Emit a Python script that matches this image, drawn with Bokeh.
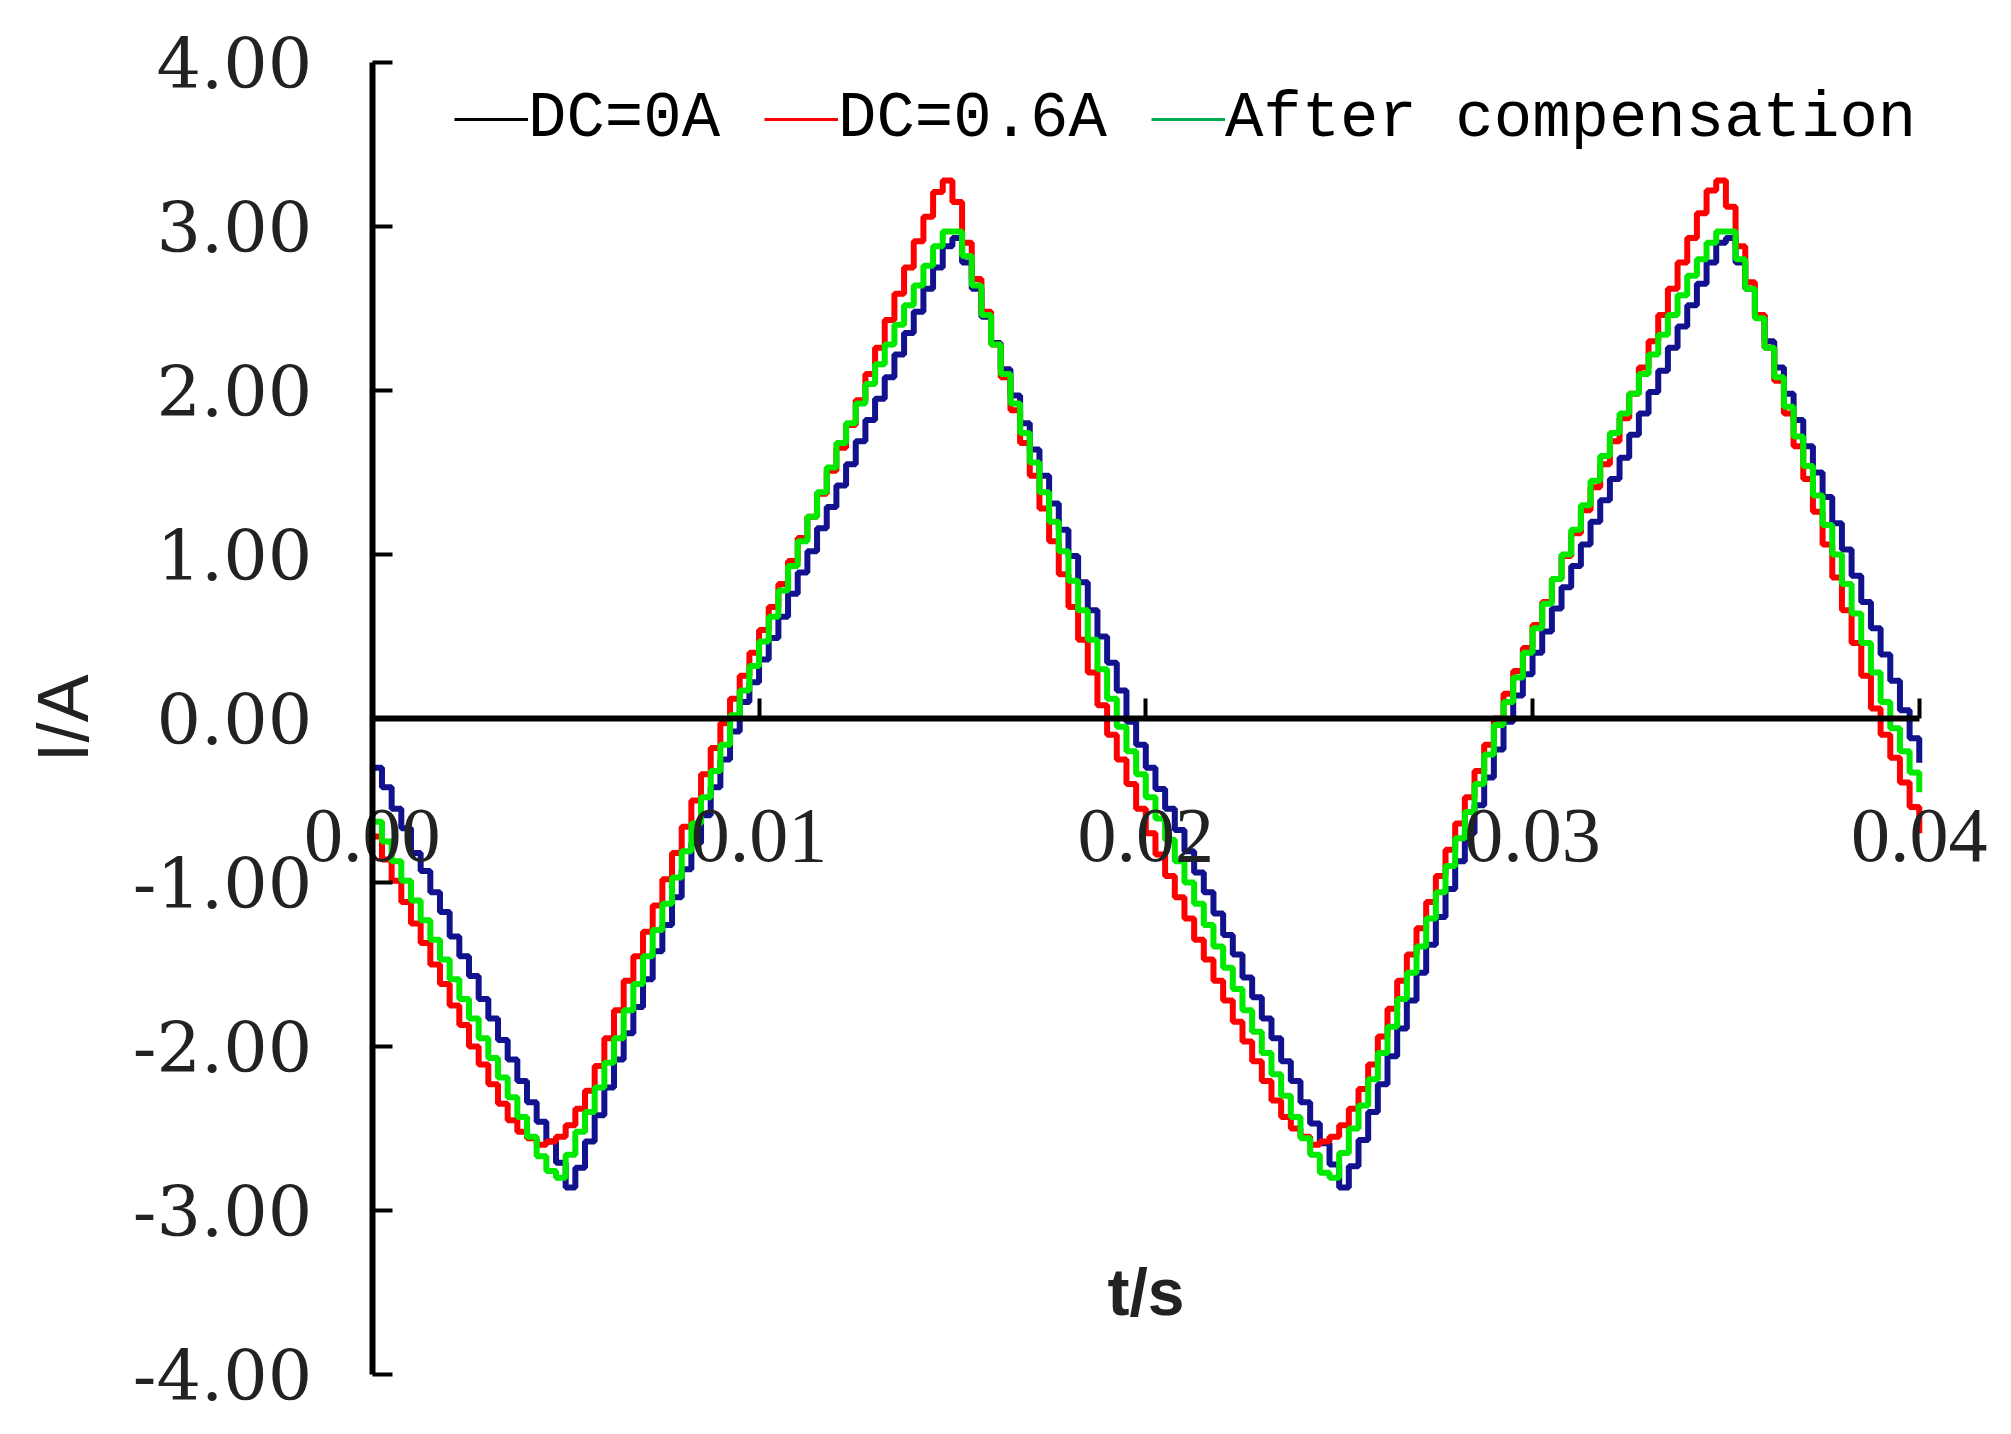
from bokeh.plotting import figure
from bokeh.models import (LinearAxis, FixedTicker, NumeralTickFormatter, Range1d)
from bokeh.embed import file_html
from bokeh.resources import INLINE

# ---------------- data ----------------
T_STEP = 0.00025  # sampling interval of the recorded waveforms, s

# DC = 0 A (drawn dark blue)
i_dc0 = [
    -0.30, -0.42, -0.55, -0.67, -0.82, -0.93, -1.06, -1.18, -1.33, -1.45, -1.57, -1.71, -1.83, -1.96, -2.08, -2.21, -2.34, -2.46, -2.58, -2.71, -2.86,
    -2.74, -2.58, -2.42, -2.25, -2.08, -1.92, -1.76, -1.59, -1.42, -1.26, -1.09, -0.92, -0.76, -0.59, -0.42, -0.25, -0.08, 0.10,
    0.22, 0.36, 0.49, 0.62, 0.76, 0.89, 1.02, 1.16, 1.29, 1.42, 1.55, 1.69, 1.82, 1.95, 2.08, 2.22, 2.35, 2.48, 2.62, 2.75, 2.88, 2.93,
    2.78, 2.62, 2.45, 2.29, 2.13, 1.97, 1.80, 1.64, 1.48, 1.31, 1.15, 0.99, 0.83, 0.66, 0.50, 0.34, 0.17, -0.02, -0.16, -0.30,
    -0.43, -0.55, -0.68, -0.81, -0.94, -1.06, -1.19, -1.32, -1.44, -1.58, -1.70, -1.83, -1.95, -2.09, -2.21, -2.34, -2.47, -2.59, -2.72, -2.86,
    -2.73, -2.57, -2.40, -2.23, -2.06, -1.89, -1.72, -1.55, -1.38, -1.21, -1.04, -0.87, -0.70, -0.53, -0.36, -0.19, -0.02, 0.14,
    0.27, 0.40, 0.53, 0.67, 0.80, 0.93, 1.06, 1.20, 1.33, 1.46, 1.59, 1.73, 1.86, 1.99, 2.12, 2.26, 2.39, 2.52, 2.65, 2.78, 2.90, 2.93,
    2.78, 2.62, 2.46, 2.30, 2.14, 1.98, 1.82, 1.66, 1.50, 1.35, 1.19, 1.03, 0.87, 0.71, 0.55, 0.39, 0.23, 0.05, -0.12, -0.27,
]

# DC = 0.6 A (red)
i_dc06 = [
    -0.72, -0.86, -0.99, -1.12, -1.25, -1.37, -1.50, -1.62, -1.75, -1.87, -2.00, -2.11, -2.23, -2.35, -2.45, -2.52, -2.56, -2.60, -2.58,
    -2.55, -2.48, -2.38, -2.27, -2.12, -1.95, -1.78, -1.60, -1.45, -1.30, -1.14, -0.98, -0.82, -0.66, -0.50, -0.34, -0.18, -0.03,
    0.12, 0.26, 0.40, 0.54, 0.68, 0.82, 0.96, 1.10, 1.23, 1.37, 1.51, 1.65, 1.79, 1.94, 2.10, 2.26, 2.43, 2.59, 2.75, 2.91, 3.06, 3.21, 3.28,
    3.15, 2.90, 2.68, 2.48, 2.28, 2.08, 1.88, 1.68, 1.48, 1.28, 1.08, 0.88, 0.68, 0.48, 0.28, 0.08, -0.10,
    -0.25, -0.40, -0.55, -0.70, -0.83, -0.96, -1.09, -1.22, -1.35, -1.47, -1.60, -1.72, -1.85, -1.97, -2.09, -2.21, -2.33, -2.43, -2.50, -2.55, -2.60, -2.58, -2.55,
    -2.48, -2.38, -2.26, -2.11, -1.94, -1.77, -1.60, -1.44, -1.28, -1.12, -0.96, -0.80, -0.64, -0.48, -0.32, -0.16, 0.00,
    0.15, 0.29, 0.43, 0.57, 0.71, 0.85, 0.99, 1.13, 1.27, 1.41, 1.55, 1.69, 1.83, 1.98, 2.14, 2.30, 2.46, 2.62, 2.78, 2.93, 3.08, 3.22, 3.28,
    3.12, 2.88, 2.66, 2.46, 2.26, 2.06, 1.86, 1.66, 1.46, 1.26, 1.06, 0.86, 0.66, 0.46, 0.26, 0.06, -0.10, -0.24, -0.39, -0.54, -0.70,
]

# After compensation (green)
i_comp = [
    -0.63, -0.75, -0.87, -0.99, -1.11, -1.23, -1.35, -1.47, -1.59, -1.71, -1.83, -1.95, -2.07, -2.19, -2.31, -2.43, -2.55, -2.67, -2.76, -2.80,
    -2.66, -2.52, -2.40, -2.25, -2.10, -1.95, -1.78, -1.62, -1.45, -1.29, -1.13, -0.97, -0.81, -0.64, -0.48, -0.32, -0.16, 0.02,
    0.17, 0.32, 0.47, 0.62, 0.78, 0.93, 1.08, 1.23, 1.38, 1.53, 1.68, 1.80, 1.92, 2.04, 2.16, 2.28, 2.40, 2.52, 2.64, 2.76, 2.88, 2.97, 2.97,
    2.82, 2.64, 2.46, 2.28, 2.10, 1.92, 1.74, 1.56, 1.38, 1.20, 1.02, 0.84, 0.66, 0.48, 0.30, 0.12, -0.05, -0.20, -0.34, -0.48,
    -0.61, -0.74, -0.87, -1.00, -1.13, -1.26, -1.39, -1.52, -1.65, -1.78, -1.91, -2.04, -2.17, -2.30, -2.43, -2.56, -2.66, -2.77, -2.80,
    -2.65, -2.50, -2.36, -2.20, -2.04, -1.88, -1.71, -1.55, -1.39, -1.22, -1.06, -0.90, -0.73, -0.57, -0.40, -0.22, -0.04, 0.10,
    0.25, 0.40, 0.55, 0.70, 0.85, 1.00, 1.15, 1.30, 1.45, 1.60, 1.74, 1.86, 1.98, 2.10, 2.22, 2.34, 2.46, 2.58, 2.70, 2.80, 2.90, 2.97, 2.97,
    2.80, 2.62, 2.44, 2.26, 2.08, 1.90, 1.72, 1.54, 1.36, 1.18, 1.00, 0.82, 0.64, 0.46, 0.28, 0.10, -0.06, -0.20, -0.33, -0.45,
]

t = [round(k * T_STEP, 6) for k in range(len(i_dc0))]

series_labels = ["DC=0A", "DC=0.6A", "After compensation"]

x_ticks = [0.0, 0.01, 0.02, 0.03, 0.04]
x_tick_labels = ["0.00", "0.01", "0.02", "0.03", "0.04"]
y_ticks = [-4, -3, -2, -1, 0, 1, 2, 3, 4]
y_tick_labels = ["-4.00", "-3.00", "-2.00", "-1.00", "0.00", "1.00", "2.00", "3.00", "4.00"]

# ---------------- figure ----------------
# Both axes are drawn through the origin (fixed locations), so the frame is
# widened to hold their tick labels and titles.
p = figure(width=1994, height=1416,
           x_range=Range1d(-0.0092, 0.041945), y_range=Range1d(-4.22, 4.256),
           x_axis_type=None, y_axis_type=None,
           output_backend="svg", toolbar_location=None,
           min_border_left=16, min_border_right=0,
           min_border_top=20, min_border_bottom=6)
p.outline_line_color = None
p.background_fill_color = "white"
p.border_fill_color = "white"

TICK_COLOR = "#222222"

# y axis through t = 0
yaxis = LinearAxis(fixed_location=0, bounds=(-4, 4),
                   ticker=FixedTicker(ticks=y_ticks),
                   formatter=NumeralTickFormatter(format="0.00"),
                   major_label_overrides={v: s for v, s in zip(y_ticks, y_tick_labels)})
yaxis.axis_label = "I/A"
yaxis.axis_label_text_font = "Liberation Sans"
yaxis.axis_label_text_font_style = "normal"
yaxis.axis_label_text_font_size = "72px"
yaxis.axis_label_text_color = TICK_COLOR
yaxis.axis_label_standoff = 27
yaxis.major_label_text_font = "DejaVu Serif"
yaxis.major_label_text_font_size = "70px"
yaxis.major_label_text_color = TICK_COLOR
yaxis.major_label_standoff = 60
yaxis.major_tick_in = 20
yaxis.major_tick_out = 0
yaxis.major_tick_line_width = 4
yaxis.minor_tick_line_color = None
yaxis.axis_line_width = 6
yaxis.axis_line_color = "black"
yaxis.major_tick_line_color = "black"
p.add_layout(yaxis, "left")

# x axis through I = 0
xaxis = LinearAxis(fixed_location=0, bounds=(0, 0.04),
                   ticker=FixedTicker(ticks=x_ticks),
                   formatter=NumeralTickFormatter(format="0.00"),
                   major_label_overrides={v: s for v, s in zip(x_ticks, x_tick_labels)})
xaxis.axis_label = "t/s"
xaxis.axis_label_text_font = "Liberation Sans"
xaxis.axis_label_text_font_style = "bold"
xaxis.axis_label_text_font_size = "66px"
xaxis.axis_label_text_color = TICK_COLOR
xaxis.axis_label_standoff = 390
xaxis.major_label_text_font = "Liberation Serif"
xaxis.major_label_text_font_size = "78px"
xaxis.major_label_text_color = TICK_COLOR
xaxis.major_label_standoff = 92
xaxis.major_tick_in = 20
xaxis.major_tick_out = 0
xaxis.major_tick_line_width = 4
xaxis.minor_tick_line_color = None
xaxis.axis_line_width = 6
xaxis.axis_line_color = "black"
xaxis.major_tick_line_color = "black"
p.add_layout(xaxis, "below")

# waveforms (sampled, zero-order hold)
p.step(t, i_dc0, mode="after", line_color="#12128e", line_width=6)
p.step(t, i_dc06, mode="after", line_color="#ff0000", line_width=6)
p.step(t, i_comp, mode="after", line_color="#00ea00", line_width=6)

# legend keys (the original legend shows these key colours)
legend_colors = ["black", "#ff0000", "#00b050"]
nan = float("nan")
for lab, col in zip(series_labels, legend_colors):
    p.line(x=[nan], y=[nan], line_color=col, line_width=3, legend_label=lab)

lg = p.legend[0]
lg.orientation = "horizontal"
lg.location = (438, 1255)
lg.border_line_color = None
lg.background_fill_alpha = 0
lg.label_text_font = "Liberation Mono"
lg.label_text_font_size = "64px"
lg.label_text_color = "black"
lg.glyph_width = 74
lg.glyph_height = 20
lg.label_standoff = 0
lg.spacing = 44
lg.padding = 0
lg.margin = 0

open("out.html", "w").write(file_html(p, INLINE))
